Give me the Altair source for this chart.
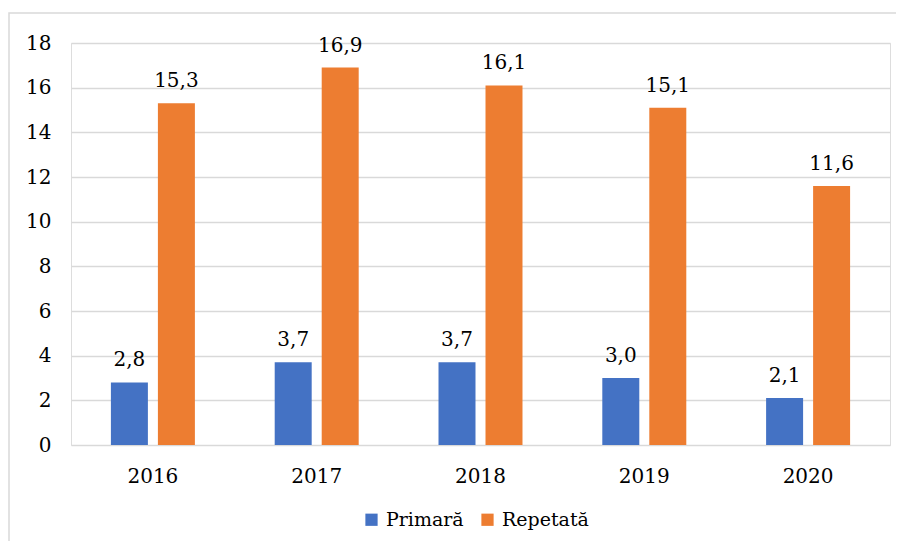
import altair as alt
import pandas as pd

years = ["2016", "2017", "2018", "2019", "2020"]
primara = [2.8, 3.7, 3.7, 3.0, 2.1]
repetata = [15.3, 16.9, 16.1, 15.1, 11.6]
series = ["Primară", "Repetată"]
colors = ["#4472C4", "#ED7D31"]

rows = []
for i, y in enumerate(years):
    for s, vals in zip(series, [primara, repetata]):
        v = vals[i]
        rows.append({"an": y, "tip": s, "val": v, "lbl": f"{v:.1f}".replace(".", ",")})
df = pd.DataFrame(rows)

FONT = "DejaVu Serif"
FS = 20

x = alt.X("an:N", sort=years, title=None,
          scale=alt.Scale(paddingInner=0, paddingOuter=0),
          axis=alt.Axis(labelAngle=0, ticks=False, domain=False, labelFontSize=FS,
                        labelFont=FONT, labelColor="#000000", labelPadding=21,
                        labelBaseline="top"))
xo = alt.XOffset("tip:N", sort=series,
                 scale=alt.Scale(paddingInner=0.213, paddingOuter=0.849))
y = alt.Y("val:Q", title=None,
          scale=alt.Scale(domain=[0, 18], nice=False),
          axis=alt.Axis(values=list(range(0, 19, 2)), ticks=False, domain=False,
                        labelFontSize=FS, labelFont=FONT, labelColor="#000000",
                        labelPadding=20, gridColor="#D9D9D9", gridWidth=1.3))
color = alt.Color("tip:N", sort=series,
                  scale=alt.Scale(domain=series, range=colors),
                  legend=alt.Legend(title=None, orient="none", direction="horizontal",
                                    legendX=291, legendY=467, symbolType="square",
                                    symbolSize=150, symbolStrokeWidth=0,
                                    labelFontSize=19, labelFont=FONT,
                                    labelColor="#000000", labelOffset=5,
                                    columnPadding=14))

base = alt.Chart(df)
bars = base.mark_bar().encode(x=x, xOffset=xo, y=y, color=color)
labels = base.mark_text(fontSize=FS, font=FONT, color="#000000",
                        baseline="alphabetic", dy=-16).encode(
    x=alt.X("an:N", sort=years), xOffset=alt.XOffset("tip:N", sort=series),
    y="val:Q", text="lbl:N")

border = alt.Chart(pd.DataFrame({"a": [0]})).mark_rect(
    fill=None, stroke="#D9D9D9", strokeWidth=1.5, clip=False).encode(
    x=alt.value(-62), x2=alt.value(840), y=alt.value(-30), y2=alt.value(540))

chart = alt.layer(border, bars, labels).properties(
    width=819, height=402,
    autosize=alt.AutoSizeParams(type="none"),
    padding={"left": 63, "top": 35, "right": 6, "bottom": 96},
).configure_view(stroke=None).configure(background="#FFFFFF")

chart.save("out.html", embed_options={"renderer": "svg", "actions": False})
